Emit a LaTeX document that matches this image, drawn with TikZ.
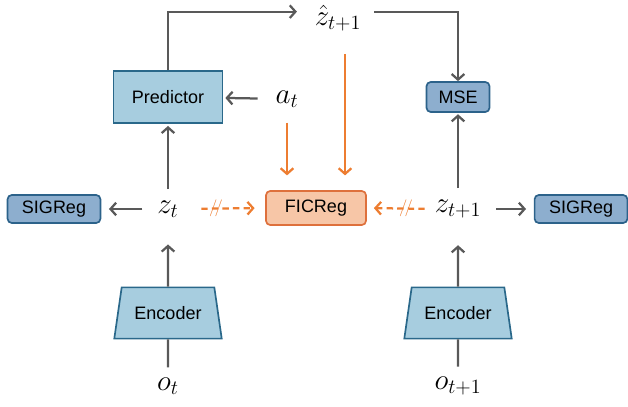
\documentclass[tikz,border=0pt]{standalone}
\usepackage{fontspec}
\setsansfont{Liberation Sans}
\usetikzlibrary{arrows.meta,shapes.geometric,positioning}
\definecolor{predfill}{RGB}{167,205,223}
\definecolor{preddraw}{RGB}{42,104,138}
\definecolor{lossfill}{RGB}{141,174,206}
\definecolor{lossdraw}{RGB}{44,98,138}
\definecolor{ficfill}{RGB}{247,198,167}
\definecolor{ficdraw}{RGB}{222,112,60}
\definecolor{orng}{RGB}{237,125,49}
\definecolor{arrgray}{RGB}{89,89,89}
\tikzset{
    block/.style={draw=preddraw,fill=predfill,line width=1.2pt,font=\sffamily\fontsize{12.8}{14}\selectfont,inner sep=0pt},
    lossbox/.style={block,draw=lossdraw,fill=lossfill,rounded corners=3pt},
    ficbox/.style={block,draw=ficdraw,fill=ficfill,rounded corners=3pt},
    encbox/.style={block,trapezium,trapezium left angle=68,trapezium right angle=68,trapezium stretches=true,minimum width=2.7cm,minimum height=1.28cm},
    var/.style={inner sep=0pt,font=\fontsize{20}{24}\selectfont},
    garrow/.style={draw=arrgray,line width=1.6pt,-{Straight Barb[length=4pt,width=9pt]}},
    gline/.style={draw=arrgray,line width=1.6pt},
    oarrow/.style={draw=orng,line width=1.6pt,-{Straight Barb[length=4pt,width=9pt]}},
    odash/.style={oarrow,dash pattern=on 4.5pt off 3pt},
    cutmark/.style={text=orng,inner sep=0pt,font=\fontsize{12}{12}\selectfont},
  }
\begin{document}
\begin{tikzpicture}[x=0.025cm,y=-0.025cm]
          \useasboundingbox (0,0) rectangle (628,406);
          %blocs
          \node[block,minimum width=2.72cm,minimum height=1.3cm] (pred) at (168,97) {Predictor};
          \node[lossbox,minimum width=1.575cm,minimum height=0.75cm] (mse) at (458,97) {MSE};
          \node[lossbox,minimum width=2.32cm,minimum height=0.7cm] (sigl) at (54,209) {SIGReg};
          \node[lossbox,minimum width=2.32cm,minimum height=0.7cm] (sigr) at (581,209) {SIGReg};
          \node[ficbox,minimum width=2.5cm,minimum height=0.85cm] (fic) at (316,208) {FICReg};
          \node[encbox] (encl) at (168,313) {Encoder};
          \node[encbox] (encr) at (458,313) {Encoder};
          %variables
          \node[var] (zt) at (168,209) {$z_t$};
          \node[var] (ztt) at (458,209) {$z_{t+1}$};
          \node[var] (at) at (287,99) {$a_t$};
          \node[var] (zhat) at (338,18) {$\hat{z}_{t+1}$};
          \node[var] (ot) at (168,386) {$o_t$};
          \node[var] (ott) at (458,386) {$o_{t+1}$};
          %fleches grises
          \draw[gline,shorten <=7pt] (ot) -- (encl);
          \draw[gline,shorten <=7pt] (ott) -- (encr);
          \draw[garrow,shorten >=19pt] (encl) -- (zt);
          \draw[garrow,shorten >=19pt] (encr) -- (ztt);
          \draw[garrow,shorten <=8pt,shorten >=1.5pt] (zt) -- (pred);
          \draw[garrow,shorten <=8pt,shorten >=1pt] (ztt) -- (mse);
          \draw[garrow,shorten <=10.5pt,shorten >=5.5pt] (zt) -- (sigl);
          \draw[garrow,shorten <=10.5pt,shorten >=5.5pt] (ztt) -- (sigr);
          \draw[garrow,shorten <=12.5pt,shorten >=1.5pt] (at) -- (pred);
          \draw[garrow,shorten >=12.5pt] (pred.north) |- ([yshift=4.5pt]zhat.west);
          \draw[garrow,shorten <=9pt] ([yshift=4.5pt]zhat.east) -| (mse.north);
          %fleches orange
          \draw[oarrow,shorten <=10.5pt,shorten >=10.5pt] (at.south) -- (at.south |- fic.north);
          \draw[oarrow,shorten <=16pt,shorten >=10.5pt] ([xshift=5pt]zhat.south) -- ([xshift=5pt]zhat.south |- fic.north);
          \draw[odash,shorten <=16pt,shorten >=7.5pt] (zt.east) -- node[cutmark,pos=0.43] (cutl) {$/\!/$} (fic.west);
          \draw[odash,shorten <=7pt,shorten >=5pt] (ztt.west) -- node[cutmark,pos=0.42] (cutr) {$/\!/$} (fic.east);
\end{tikzpicture}
\end{document}
